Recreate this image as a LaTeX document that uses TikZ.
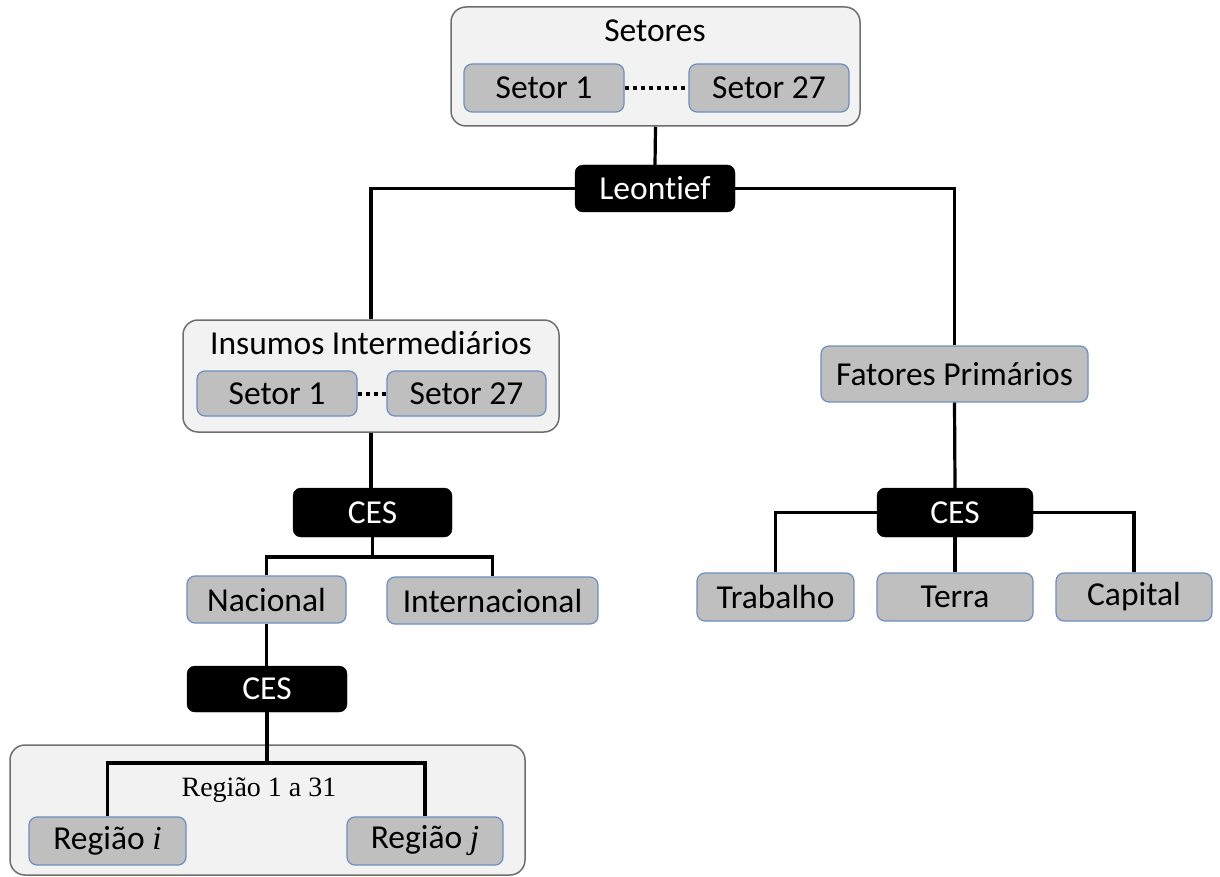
\documentclass[tikz,border=0pt]{standalone}
\usepackage{fontspec}
\setmainfont[Ligatures={NoCommon}]{Carlito}
\newfontfamily\serifrm{Liberation Serif}
\definecolor{groupfill}{HTML}{F2F2F2}
\definecolor{groupline}{HTML}{6E6E6E}
\definecolor{itemfill}{HTML}{BFBFBF}
\definecolor{itemline}{HTML}{6C8EBF}
\tikzset{
  box/.style={rectangle, inner sep=0pt, anchor=center},
  groupbox/.style={box, fill=groupfill, draw=groupline, line width=1.5pt, rounded corners=15pt},
  itembox/.style={box, fill=itemfill, draw=itemline, line width=1.2pt, rounded corners=8pt,
    font=\fontsize{33.5}{40}\selectfont},
  opbox/.style={box, fill=black, draw=black, rounded corners=8pt, text=white,
    font=\fontsize{33.5}{40}\selectfont},
  grouptitle/.style={inner sep=0pt, font=\fontsize{33.5}{40}\selectfont},
  link/.style={line width=3.2pt, line join=miter},
  dots/.style={line width=4pt, dash pattern=on 4pt off 4pt}
}
\begin{document}
\begin{tikzpicture}[x=1pt, y=-1pt]
\useasboundingbox (0,0) rectangle (1220,877);

% group frames
\node[groupbox, minimum width=409pt, minimum height=119pt] (setores) at (655.5,66.5) {};
\node[grouptitle] (setorestitle) at (655,31) {Setores};
\node[groupbox, minimum width=376pt, minimum height=112pt] (insumos) at (371,376) {};
\node[grouptitle] (insumostitle) at (371,343) {Insumos Intermediários};
\node[groupbox, minimum width=515pt, minimum height=130pt] (regiao) at (267.5,810) {};
\node[inner sep=0pt, font=\serifrm\fontsize{28}{33}\selectfont] (regiaotitle) at (259,790) {Região 1 a 31};

% operators
\node[opbox, minimum width=160pt, minimum height=47pt] (leontief) at (655,188.5) {Leontief};
\node[opbox, minimum width=159pt, minimum height=49pt] (ces1) at (372.5,512.5) {CES};
\node[opbox, minimum width=160pt, minimum height=46pt] (ces2) at (267,689) {CES};
\node[opbox, minimum width=156pt, minimum height=49pt] (ces3) at (955,512.5) {CES};

% items
\node[itembox, minimum width=160pt, minimum height=48pt] (s1) at (544,88) {Setor 1};
\node[itembox, minimum width=160pt, minimum height=48pt] (s27) at (769,88) {Setor 27};
\node[itembox, minimum width=160pt, minimum height=45pt] (i1) at (277,393.5) {Setor 1};
\node[itembox, minimum width=159pt, minimum height=45pt] (i27) at (466.5,393.5) {Setor 27};
\node[itembox, minimum width=267pt, minimum height=56pt] (fatores) at (954.5,374) {Fatores Primários};
\node[itembox, minimum width=159pt, minimum height=47pt] (nacional) at (266.5,599.5) {Nacional};
\node[itembox, minimum width=211pt, minimum height=47pt] (internacional) at (492.5,600.5) {Internacional};
\node[itembox, minimum width=157pt, minimum height=48pt] (trabalho) at (775.5,597) {Trabalho};
\node[itembox, minimum width=156pt, minimum height=48pt] (terra) at (955,597) {Terra};
\node[itembox, minimum width=156pt, minimum height=48pt] (capital) at (1134,597) {Capital};
\node[itembox, minimum width=157pt, minimum height=48pt] (ri) at (107.5,841) {Região {\serifrm\itshape i}};
\node[itembox, minimum width=156pt, minimum height=48pt] (rj) at (425,841) {Região {\serifrm\itshape j}};

% junction points
\coordinate (j1) at (372.5,557);
\coordinate (j2) at (267,763);

% connectors
\draw[dots] (s1.east) -- (s27.west);
\draw[dots] (i1.east) -- (i27.west);
\draw[link] (setores.south) -- (leontief.north);
\draw[link] (leontief.west) -| (insumos.north);
\draw[link] (leontief.east) -| (fatores.north);
\draw[link] (insumos.south) -- (insumos.south |- ces1.north);
\draw[link] (ces1.south) -- (j1);
\draw[link] (nacional.north) |- (j1) -| (internacional.north);
\draw[link] (nacional.south) -- (nacional.south |- ces2.north);
\draw[link] (ces2.south) -- (j2);
\draw[link] (ri.north) |- (j2) -| (rj.north);
\draw[link] (fatores.south) -- (ces3.north);
\draw[link] (ces3.south) -- (terra.north);
\draw[link] (trabalho.north) |- (ces3.west);
\draw[link] (capital.north) |- (ces3.east);
\end{tikzpicture}
\end{document}
